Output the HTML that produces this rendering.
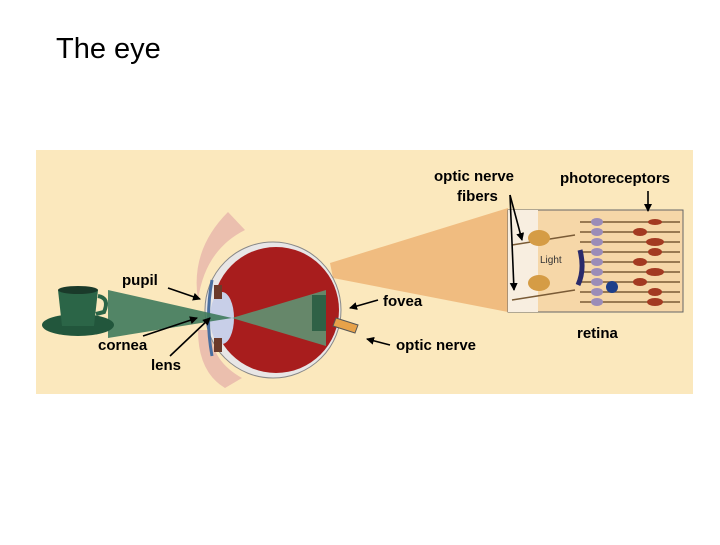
<!DOCTYPE html>
<html><head><style>
body{margin:0;width:720px;height:540px;background:#fff;overflow:hidden;font-family:"Liberation Sans",sans-serif}
</style></head><body>
<svg width="720" height="540" xmlns="http://www.w3.org/2000/svg" font-family="Liberation Sans, sans-serif">
<text x="56" y="58" font-size="29" fill="#000">The eye</text>
<rect x="36" y="150" width="657" height="244" fill="#fbe8bd"/>
<polygon points="330,263 508,208 508,312 333,278" fill="#f0bc80"/>
<path d="M228,212 Q190,250 198,300 Q205,250 245,230 Z" fill="#ebbfae"/>
<path d="M198,330 Q198,372 225,388 L242,378 Q210,360 212,330 Z" fill="#ebbfae"/>
<circle cx="273" cy="310" r="68" fill="#e8e6e6" stroke="#888" stroke-width="1"/>
<circle cx="276" cy="310" r="63" fill="#a81d1d"/>
<ellipse cx="222" cy="318" rx="12" ry="26" fill="#c8cfe8"/>
<path d="M212,280 Q205,318 212,356" stroke="#4a6fa0" stroke-width="3" fill="none"/>
<rect x="214" y="285" width="8" height="14" fill="#6b3a2a"/>
<rect x="214" y="338" width="8" height="14" fill="#6b3a2a"/>
<path d="M336,318 L358,325 L355,333 L333,326 Z" fill="#e7a24a" stroke="#555" stroke-width="1"/>
<polygon points="108,290 232,318 108,338" fill="#3f7a5c" opacity="0.9"/>
<polygon points="232,318 326,290 326,346" fill="#5a9a78" opacity="0.85"/>
<rect x="312" y="295" width="14" height="36" fill="#2f6146"/>
<ellipse cx="78" cy="325" rx="36" ry="11" fill="#22563c"/>
<path d="M58,290 L98,290 L94,326 L62,326 Z" fill="#2b6547"/>
<ellipse cx="78" cy="290" rx="20" ry="4" fill="#1a3a2a"/>
<path d="M98,296 Q110,298 104,312 L96,314" stroke="#2b6547" stroke-width="4" fill="none"/>
<rect x="508" y="210" width="175" height="102" fill="#f6d7a8" stroke="#666"/>
<rect x="508" y="210" width="30" height="102" fill="#f8eee0"/>
<g stroke="#7a5b36" stroke-width="1.5">
<line x1="580" y1="222" x2="680" y2="222"/><line x1="580" y1="232" x2="680" y2="232"/>
<line x1="580" y1="242" x2="680" y2="242"/><line x1="580" y1="252" x2="680" y2="252"/>
<line x1="580" y1="262" x2="680" y2="262"/><line x1="580" y1="272" x2="680" y2="272"/>
<line x1="580" y1="282" x2="680" y2="282"/><line x1="580" y1="292" x2="680" y2="292"/>
<line x1="580" y1="302" x2="680" y2="302"/>
<line x1="512" y1="245" x2="575" y2="235"/><line x1="512" y1="300" x2="575" y2="290"/>
</g>
<g fill="#9b8cb8"><ellipse cx="597" cy="222" rx="6" ry="4"/><ellipse cx="597" cy="232" rx="6" ry="4"/><ellipse cx="597" cy="242" rx="6" ry="4"/><ellipse cx="597" cy="252" rx="6" ry="4"/><ellipse cx="597" cy="262" rx="6" ry="4"/><ellipse cx="597" cy="272" rx="6" ry="4"/><ellipse cx="597" cy="282" rx="6" ry="4"/><ellipse cx="597" cy="292" rx="6" ry="4"/><ellipse cx="597" cy="302" rx="6" ry="4"/></g>
<g fill="#a33a22"><ellipse cx="655" cy="222" rx="7" ry="3"/><ellipse cx="640" cy="232" rx="7" ry="4"/><ellipse cx="655" cy="242" rx="9" ry="4"/><ellipse cx="655" cy="252" rx="7" ry="4"/><ellipse cx="640" cy="262" rx="7" ry="4"/><ellipse cx="655" cy="272" rx="9" ry="4"/><ellipse cx="640" cy="282" rx="7" ry="4"/><ellipse cx="655" cy="292" rx="7" ry="4"/><ellipse cx="655" cy="302" rx="8" ry="4"/></g>
<ellipse cx="539" cy="238" rx="11" ry="8" fill="#d59c45"/><ellipse cx="539" cy="283" rx="11" ry="8" fill="#d59c45"/>
<path d="M580,250 Q585,270 578,285" stroke="#2a2a6a" stroke-width="5" fill="none"/>
<circle cx="612" cy="287" r="6" fill="#1d3f8a"/>
<text x="540" y="263" font-size="10" fill="#333">Light</text>
<g font-size="15" font-weight="bold" fill="#000">
<text x="122" y="285">pupil</text>
<text x="98" y="350">cornea</text>
<text x="151" y="370">lens</text>
<text x="383" y="306">fovea</text>
<text x="396" y="350">optic nerve</text>
<text x="434" y="181">optic nerve</text>
<text x="457" y="201">fibers</text>
<text x="560" y="183">photoreceptors</text>
<text x="577" y="338">retina</text>
</g>
<defs><marker id="a" markerWidth="8" markerHeight="8" refX="7" refY="4" orient="auto" markerUnits="userSpaceOnUse"><path d="M0,0 L8,4 L0,8 Z" fill="#000"/></marker></defs>
<g stroke="#000" stroke-width="1.6" marker-end="url(#a)">
<line x1="168" y1="288" x2="200" y2="299"/>
<line x1="143" y1="336" x2="197" y2="318"/>
<line x1="170" y1="356" x2="210" y2="318"/>
<line x1="378" y1="300" x2="350" y2="308"/>
<line x1="390" y1="345" x2="367" y2="339"/>
<line x1="510" y1="195" x2="522" y2="240"/>
<line x1="510" y1="195" x2="514" y2="290"/>
<line x1="648" y1="191" x2="648" y2="211"/>
</g>
</svg>
</body></html>
